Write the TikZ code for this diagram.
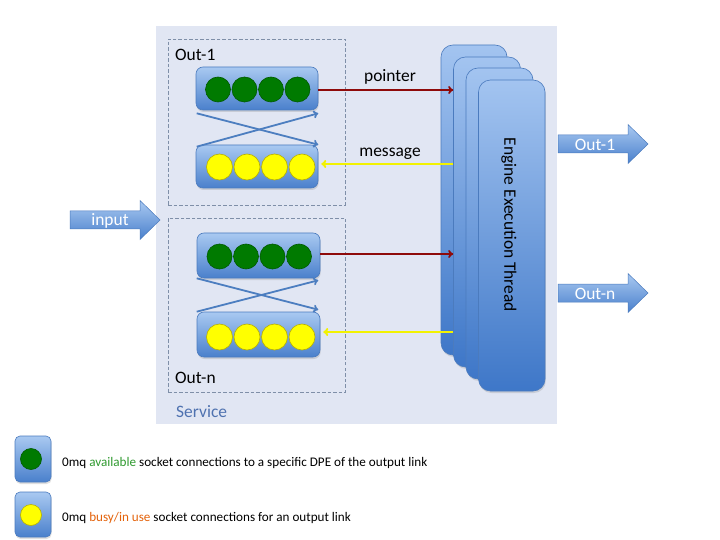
\documentclass[tikz,border=0pt]{standalone}
\usepackage{fontspec}
\setmainfont{Carlito}
\usetikzlibrary{arrows.meta,shadows,calc,fit}
\definecolor{svcfill}{HTML}{E1E6F3}
\definecolor{dashcol}{HTML}{7F8FA8}
\definecolor{bartop}{HTML}{A9C9F1}
\definecolor{barbot}{HTML}{4A80CC}
\definecolor{barline}{HTML}{4B7BBE}
\definecolor{engtop}{HTML}{A3C4F0}
\definecolor{engbot}{HTML}{3E77C8}
\definecolor{crosscol}{HTML}{4C7EC0}
\definecolor{ptrcol}{HTML}{8E0A0A}
\definecolor{msgcol}{HTML}{F2F200}
\definecolor{gcirc}{HTML}{007A00}
\definecolor{gline}{HTML}{005A00}
\definecolor{ycirc}{HTML}{FFFF00}
\definecolor{yline}{HTML}{B8B000}
\definecolor{svctext}{HTML}{4F72B0}
\definecolor{availcol}{HTML}{2F9A2F}
\definecolor{busycol}{HTML}{E4620A}
\newcommand\myblockarrow[5]{%
  \path[blockarr] (#1,#4-9) -- (#2,#4-9) -- (#2,#4-19.5) -- (#3,#4) -- (#2,#4+19.5) -- (#2,#4+9) -- (#1,#4+9) -- cycle;
  \node[arrtext] (#5) at ({(#1+#2)/2+2},#4) {};}
\begin{document}
\begin{tikzpicture}[x=1bp,y=-1bp,
  font=\fontsize{17.5}{20}\selectfont,
  svcbox/.style={fill=svcfill,draw=none,inner sep=0pt},
  grpbox/.style={draw=dashcol,line width=0.9bp,inner sep=0pt,dash pattern=on 3.5bp off 2bp},
  bar/.style={draw=barline,line width=0.6bp,rounded corners=7bp,top color=bartop,bottom color=barbot,inner sep=0pt,
     drop shadow={shadow xshift=0.6bp,shadow yshift=-2bp,opacity=0.25}},
  englayer/.style={draw=barline,line width=0.6bp,rounded corners=12bp,top color=engtop,bottom color=engbot,inner sep=0pt,
     drop shadow={shadow xshift=0.8bp,shadow yshift=-2bp,opacity=0.25}},
  gdot/.style={circle,fill=gcirc,draw=gline,line width=0.6bp,minimum size=25bp,inner sep=0pt},
  ydot/.style={circle,fill=ycirc,draw=yline,line width=0.6bp,minimum size=26bp,inner sep=0pt},
  cross/.style={draw=crosscol,line width=1.8bp,-{To[length=5bp,width=8bp]}},
  ptr/.style={draw=ptrcol,line width=1.8bp,-{To[length=5bp,width=8bp]}},
  msg/.style={draw=msgcol,line width=2bp,-{To[length=5bp,width=8bp]}},
  blockarr/.style={draw=barline,line width=0.5bp,top color=bartop,bottom color=barbot},
  arrtext/.style={text=white,inner sep=0pt},
  lbl/.style={inner sep=0pt},
  legbox/.style={draw=barline,line width=0.6bp,rounded corners=5bp,top color=bartop,bottom color=barbot,inner sep=0pt,
     drop shadow={shadow xshift=0.6bp,shadow yshift=-2bp,opacity=0.25}},
  legtext/.style={font=\fontsize{13.2}{15}\selectfont,anchor=west,inner sep=0pt}
]
\useasboundingbox (0,0) rectangle (720,540);
\fill[white] (0,0) rectangle (720,540);

% service
\node[svcbox,fit={(156,26) (557,424)}] (svc) {};
\node[lbl,anchor=west,text=svctext] (svclbl) at (176,412) {Service};

% group boxes
\node[grpbox,fit={(168,39) (345,205)}] (grp1) {};
\node[grpbox,fit={(168,218) (345,392)}] (grpn) {};
\node[lbl,anchor=west] (out1lbl) at (175,55) {Out-1};
\node[lbl,anchor=west] (outnlbl) at (175,378) {Out-n};

% bars group 1
\node[bar,fit={(196,67) (318,110)}] (g1) {};
\node[bar,fit={(196,145) (318,188)}] (y1) {};
% bars group n
\node[bar,fit={(197,233) (320,278)}] (gn) {};
\node[bar,fit={(197,312) (320,357)}] (yn) {};

% dots
\foreach \i/\x in {1/218,2/244.5,3/271,4/297.5}{
  \node[gdot] (g1d\i) at (\x,89.5) {};
  \node[gdot] (gnd\i) at (\x+1.5,256.5) {};
}
\foreach \i/\x in {1/219.5,2/247,3/274.5,4/302}{
  \node[ydot] (y1d\i) at (\x,167) {};
  \node[ydot] (ynd\i) at (\x,337) {};
}

% cross arrows
\draw[cross] ($(g1.south west)+(1,3)$) -- ($(y1.north east)+(0,0)$);
\draw[cross] ($(y1.north west)+(1,2)$) -- ($(g1.south east)+(0,3)$);
\draw[cross] ($(gn.south west)+(0,0)$) -- ($(yn.north east)+(-2,-2)$);
\draw[cross] ($(yn.north west)+(0,0)$) -- ($(gn.south east)+(-2,2)$);

% engine layers
\node[englayer,fit={(441,45) (507,355)}] (eng1) {};
\node[englayer,fit={(453.5,57) (520.5,367)}] (eng2) {};
\node[englayer,fit={(466,68) (533,379)}] (eng3) {};
\node[englayer,fit={(478.5,80) (545,391)}] (eng4) {};
\node[lbl,rotate=-90] (englbl) at (509,225) {Engine Execution Thread};

% pointer / message arrows
\draw[ptr] ($(g1.east)+(0,1.5)$) -- ($(g1.east -| eng2.west)+(0,1.5)$);
\draw[msg] ($(y1.east -| eng2.west)+(0,-2.5)$) -- ($(y1.east)+(3,-2.5)$);
\draw[ptr] ($(gn.east)+(0,-1.5)$) -- ($(gn.east -| eng2.west)+(0,-1.5)$);
\draw[msg] ($(yn.east -| eng2.west)+(0,-2.5)$) -- ($(yn.east)+(3,-2.5)$);
\node[lbl] (ptrlbl) at (390,77) {pointer};
\node[lbl] (msglbl) at (390,154) {message};

% block arrows
\myblockarrow{70}{140}{160}{220}{inarr}
\node[arrtext] (inlbl) at (110,221) {input};
\myblockarrow{558}{628}{648}{144}{o1arr}
\node[arrtext] (o1lbl) at (595,145) {Out-1};
\myblockarrow{558}{628}{648}{293}{onarr}
\node[arrtext] (onlbl) at (595,294) {Out-n};

% legend
\node[legbox,fit={(15,436) (51,482)}] (leg1) {};
\node[gdot,minimum size=21bp] (leg1d) at (31,459) {};
\node[legtext] (leg1t) at (62,463) {0mq \textcolor{availcol}{available} socket connections to a specific DPE of the output link};
\node[legbox,fit={(15,492) (51,537)}] (leg2) {};
\node[ydot,minimum size=21bp] (leg2d) at (31,515) {};
\node[legtext] (leg2t) at (62,518) {0mq \textcolor{busycol}{busy/in use} socket connections for an output link};
\end{tikzpicture}
\end{document}
